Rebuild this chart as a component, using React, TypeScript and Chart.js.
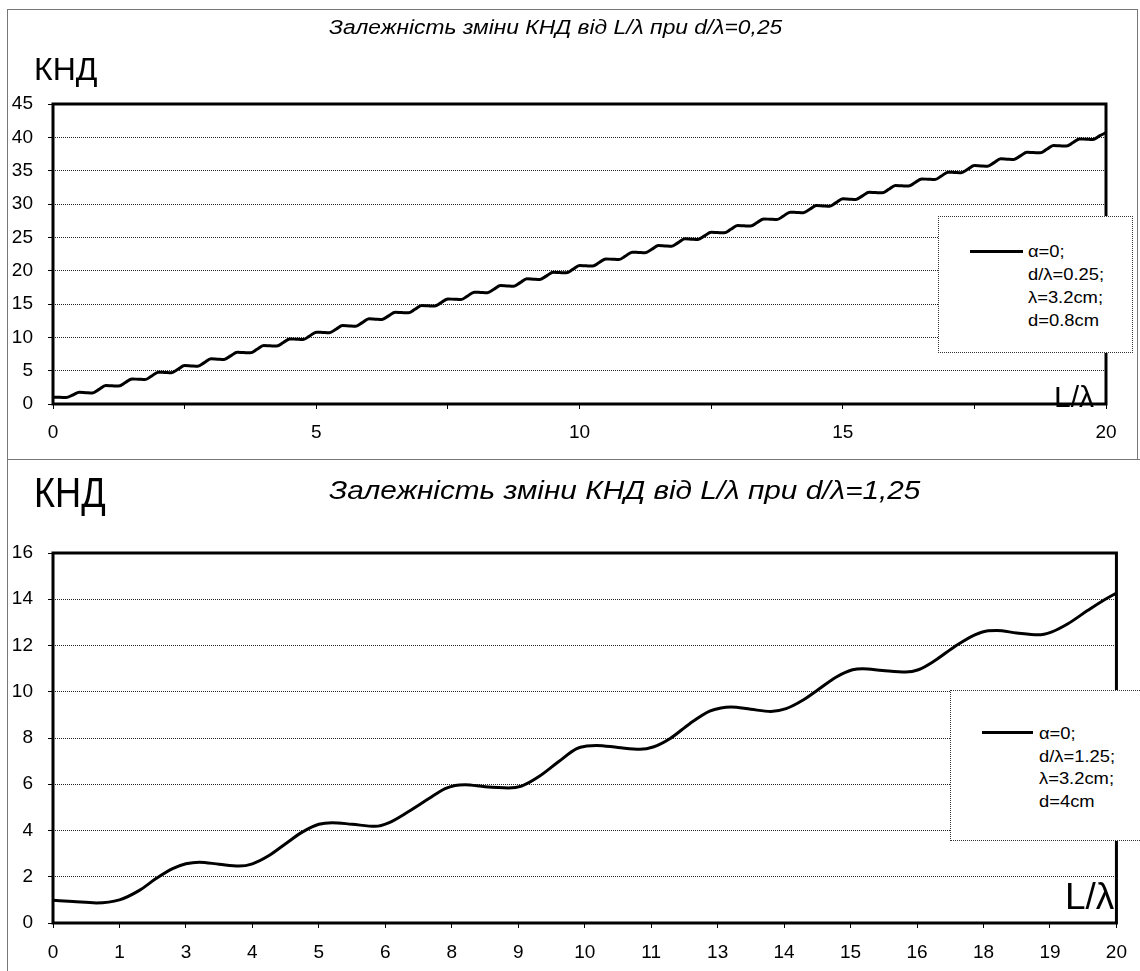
import React, { useEffect, useRef } from "react";
import { Chart, registerables } from "chart.js";

Chart.register(...registerables);

const FONT = '"Liberation Sans", Arial, Helvetica, sans-serif';

// ---------- Top chart (d/λ = 0,25) ----------
const topTitle = "Залежність зміни КНД від L/λ при d/λ=0,25";
const topLegend = ["α=0;", "d/λ=0.25;", "λ=3.2cm;", "d=0.8cm"];
const topYTicks = [0, 5, 10, 15, 20, 25, 30, 35, 40, 45];
const topXLabelEvery = 5;

const topL = [
  0, 0.125, 0.25, 0.375, 0.5, 0.625, 0.75, 0.875,
  1, 1.125, 1.25, 1.375, 1.5, 1.625, 1.75, 1.875,
  2, 2.125, 2.25, 2.375, 2.5, 2.625, 2.75, 2.875,
  3, 3.125, 3.25, 3.375, 3.5, 3.625, 3.75, 3.875,
  4, 4.125, 4.25, 4.375, 4.5, 4.625, 4.75, 4.875,
  5, 5.125, 5.25, 5.375, 5.5, 5.625, 5.75, 5.875,
  6, 6.125, 6.25, 6.375, 6.5, 6.625, 6.75, 6.875,
  7, 7.125, 7.25, 7.375, 7.5, 7.625, 7.75, 7.875,
  8, 8.125, 8.25, 8.375, 8.5, 8.625, 8.75, 8.875,
  9, 9.125, 9.25, 9.375, 9.5, 9.625, 9.75, 9.875,
  10, 10.125, 10.25, 10.375, 10.5, 10.625, 10.75, 10.875,
  11, 11.125, 11.25, 11.375, 11.5, 11.625, 11.75, 11.875,
  12, 12.125, 12.25, 12.375, 12.5, 12.625, 12.75, 12.875,
  13, 13.125, 13.25, 13.375, 13.5, 13.625, 13.75, 13.875,
  14, 14.125, 14.25, 14.375, 14.5, 14.625, 14.75, 14.875,
  15, 15.125, 15.25, 15.375, 15.5, 15.625, 15.75, 15.875,
  16, 16.125, 16.25, 16.375, 16.5, 16.625, 16.75, 16.875,
  17, 17.125, 17.25, 17.375, 17.5, 17.625, 17.75, 17.875,
  18, 18.125, 18.25, 18.375, 18.5, 18.625, 18.75, 18.875,
  19, 19.125, 19.25, 19.375, 19.5, 19.625, 19.75, 19.875,
  20,
];

const topKND = [
  1.0, 1.0, 0.98, 1.35, 1.75, 1.7, 1.66, 2.2,
  2.78, 2.73, 2.69, 3.22, 3.76, 3.71, 3.67, 4.21,
  4.78, 4.73, 4.69, 5.22, 5.76, 5.71, 5.67, 6.21,
  6.78, 6.73, 6.69, 7.22, 7.76, 7.71, 7.67, 8.21,
  8.78, 8.73, 8.69, 9.22, 9.76, 9.71, 9.67, 10.21,
  10.78, 10.73, 10.69, 11.22, 11.76, 11.71, 11.67, 12.21,
  12.78, 12.73, 12.69, 13.22, 13.76, 13.71, 13.67, 14.21,
  14.78, 14.73, 14.69, 15.22, 15.76, 15.71, 15.67, 16.21,
  16.78, 16.73, 16.69, 17.22, 17.76, 17.71, 17.67, 18.21,
  18.78, 18.73, 18.69, 19.22, 19.76, 19.71, 19.67, 20.21,
  20.78, 20.73, 20.69, 21.22, 21.76, 21.71, 21.67, 22.21,
  22.78, 22.73, 22.69, 23.22, 23.76, 23.71, 23.67, 24.21,
  24.78, 24.73, 24.69, 25.22, 25.76, 25.71, 25.67, 26.21,
  26.78, 26.73, 26.69, 27.22, 27.76, 27.71, 27.67, 28.21,
  28.78, 28.73, 28.69, 29.22, 29.76, 29.71, 29.67, 30.21,
  30.78, 30.73, 30.69, 31.22, 31.76, 31.71, 31.67, 32.21,
  32.78, 32.73, 32.69, 33.22, 33.76, 33.71, 33.67, 34.21,
  34.78, 34.73, 34.69, 35.22, 35.76, 35.71, 35.67, 36.21,
  36.78, 36.73, 36.69, 37.22, 37.76, 37.71, 37.67, 38.21,
  38.78, 38.73, 38.69, 39.22, 39.76, 39.71, 39.67, 40.21,
  40.7,
];

// ---------- Bottom chart (d/λ = 1,25) ----------
const botTitle = "Залежність зміни КНД від L/λ при d/λ=1,25";
const botLegend = ["α=0;", "d/λ=1.25;", "λ=3.2cm;", "d=4cm"];
const botXLabels = ["0", "1", "3", "4", "5", "6", "8", "9", "10", "11", "13", "14", "15", "16", "18", "19", "20"];
const botYTicks = [0, 2, 4, 6, 8, 10, 12, 14, 16];

// position along the category axis (index of the label) and value
const botPos = [
  0, 0.3, 0.65, 1.0, 1.3, 1.55, 1.8, 2.0, 2.2, 2.5, 2.8, 3.0, 3.25, 3.5, 3.75,
  4.0, 4.2, 4.5, 4.85, 5.05, 5.35, 5.65, 5.9, 6.05, 6.2, 6.5, 6.85, 7.05, 7.3,
  7.6, 7.88, 8.03, 8.18, 8.5, 8.83, 9.03, 9.28, 9.58, 9.88, 10.05, 10.2, 10.5,
  10.8, 11.03, 11.28, 11.53, 11.78, 12.03, 12.18, 12.48, 12.83, 13.02, 13.27,
  13.57, 13.87, 14.07, 14.2, 14.5, 14.82, 15.02, 15.27, 15.57, 15.82, 16.0,
];
const botKND = [
  0.98, 0.93, 0.87, 1.0, 1.41, 1.92, 2.35, 2.56, 2.63, 2.54, 2.46, 2.56, 2.92, 3.43, 3.93,
  4.27, 4.34, 4.27, 4.18, 4.33, 4.82, 5.37, 5.81, 5.95, 5.98, 5.89, 5.84, 5.92, 6.31,
  6.96, 7.54, 7.65, 7.68, 7.59, 7.51, 7.61, 7.97, 8.62, 9.16, 9.3, 9.34, 9.24,
  9.15, 9.27, 9.63, 10.13, 10.63, 10.95, 11.0, 10.92, 10.85, 10.95, 11.35,
  11.96, 12.46, 12.64, 12.65, 12.54, 12.46, 12.58, 12.94, 13.52, 13.98, 14.27,
];

const framePlugin = {
  id: "plotFrame",
  beforeDatasetsDraw(chart: any) {
    const { ctx, chartArea } = chart;
    const { left, top, right, bottom } = chartArea;
    ctx.save();
    ctx.strokeStyle = "#000";
    ctx.lineWidth = 3;
    ctx.strokeRect(left, top, right - left, bottom - top);
    ctx.restore();
  },
};

function makeChart(
  canvas: HTMLCanvasElement,
  xs: number[],
  ys: number[],
  opts: {
    pad: { left: number; top: number; right: number; bottom: number };
    xMax: number;
    xStep: number;
    xCallback: (v: number) => string;
    yTicks: number[];
    xHeight: number;
    yWidth: number;
    xPad: number;
    yPad: number;
  }
) {
  return new Chart(canvas, {
    type: "line",
    data: {
      datasets: [
        {
          data: xs.map((x, i) => ({ x, y: ys[i] })),
          borderColor: "#000",
          borderWidth: 3,
          pointRadius: 0,
          fill: false,
          cubicInterpolationMode: "monotone",
        },
      ],
    },
    options: {
      animation: false,
      responsive: false,
      maintainAspectRatio: false,
      devicePixelRatio: 1,
      layout: { padding: opts.pad },
      plugins: {
        legend: { display: false },
        tooltip: { enabled: false },
        title: { display: false },
      },
      scales: {
        x: {
          type: "linear",
          min: 0,
          max: opts.xMax,
          ticks: {
            stepSize: opts.xStep,
            autoSkip: false,
            maxRotation: 0,
            color: "#000",
            padding: opts.xPad,
            font: { family: FONT, size: 19 },
            callback: (v: any) => opts.xCallback(Number(v)),
          },
          grid: { drawOnChartArea: false, drawTicks: true, tickLength: 5, color: "#000", lineWidth: 1 },
          border: { display: false },
          afterFit: (s: any) => {
            s.height = opts.xHeight;
          },
        },
        y: {
          type: "linear",
          min: opts.yTicks[0],
          max: opts.yTicks[opts.yTicks.length - 1],
          afterBuildTicks: (s: any) => {
            s.ticks = opts.yTicks.map((v) => ({ value: v }));
          },
          ticks: {
            color: "#000",
            padding: opts.yPad,
            font: { family: FONT, size: 19 },
            callback: (v: any) => String(v),
          },
          grid: { color: "#222", lineWidth: 1, tickLength: 5, tickColor: "#000" },
          border: { display: false, dash: [1, 1] },
          afterFit: (s: any) => {
            s.width = opts.yWidth;
          },
        },
      },
    },
    plugins: [framePlugin],
  } as any);
}

const abs = (o: React.CSSProperties): React.CSSProperties => ({ position: "absolute", margin: 0, whiteSpace: "nowrap", ...o });

export default function App() {
  const topRef = useRef<HTMLCanvasElement>(null);
  const botRef = useRef<HTMLCanvasElement>(null);

  useEffect(() => {
    const c1 = makeChart(topRef.current!, topL, topKND, {
      pad: { left: 0, top: 104, right: 34, bottom: 0 },
      xMax: 20,
      xStep: 2.5,
      xCallback: (v) => (Math.abs(v % topXLabelEvery) < 1e-9 ? String(v) : ""),
      yTicks: topYTicks,
      xHeight: 55,
      yWidth: 53,
      xPad: 12,
      yPad: 15,
    });
    const c2 = makeChart(botRef.current!, botPos, botKND, {
      pad: { left: 0, top: 94, right: 18, bottom: 0 },
      xMax: 16,
      xStep: 1,
      xCallback: (v) => botXLabels[Math.round(v)] ?? "",
      yTicks: botYTicks,
      xHeight: 48,
      yWidth: 53,
      xPad: 13,
      yPad: 15,
    });
    return () => {
      c1.destroy();
      c2.destroy();
    };
  }, []);

  const legendBox = (left: number, top: number, width: number, height: number) =>
    abs({ left, top, width, height, border: "1px dotted #333", background: "#fff", boxSizing: "border-box" });

  return (
    <div style={abs({ left: 0, top: 0, width: 1140, height: 971, overflow: "hidden", background: "#fff", fontFamily: FONT, color: "#000" })}>
      {/* outer frames */}
      <div style={abs({ left: 7, top: 9, width: 1131, height: 451, border: "1px solid #777", boxSizing: "border-box" })} />
      <div style={abs({ left: 7, top: 459, width: 1200, height: 600, border: "1px solid #777", boxSizing: "border-box" })} />

      {/* top chart */}
      <canvas ref={topRef} width={1140} height={459} style={abs({ left: 0, top: 0, width: 1140, height: 459 })} />
      <div style={abs({ left: 329, top: 17, fontSize: 20, fontStyle: "italic", lineHeight: 1, transform: "scaleX(1.14)", transformOrigin: "0 0" })}>{topTitle}</div>
      <div style={abs({ left: 34, top: 53, fontSize: 32, lineHeight: 1 })}>КНД</div>
      <div style={abs({ left: 1054, top: 382, fontSize: 30, lineHeight: 1 })}>L/λ</div>
      <div style={legendBox(938, 216, 195, 137)} />
      <div style={abs({ left: 970, top: 250, width: 53, height: 3, background: "#000" })} />
      <div style={abs({ left: 1028, top: 240, fontSize: 17, lineHeight: "23px", transform: "scaleX(1.08)", transformOrigin: "0 0" })}>
        {topLegend.map((t) => (
          <div key={t}>{t}</div>
        ))}
      </div>

      {/* bottom chart */}
      <canvas ref={botRef} width={1140} height={512} style={abs({ left: 0, top: 459, width: 1140, height: 512 })} />
      <div style={abs({ left: 34, top: 472, fontSize: 42, lineHeight: 1, transform: "scaleX(0.86)", transformOrigin: "0 0" })}>КНД</div>
      <div style={abs({ left: 329, top: 478, fontSize: 25, fontStyle: "italic", lineHeight: 1, transform: "scaleX(1.19)", transformOrigin: "0 0" })}>{botTitle}</div>
      <div style={abs({ left: 1065, top: 878, fontSize: 37, lineHeight: 1 })}>L/λ</div>
      <div style={legendBox(950, 690, 250, 151)} />
      <div style={abs({ left: 982, top: 731, width: 51, height: 3, background: "#000" })} />
      <div style={abs({ left: 1039, top: 723, fontSize: 17, lineHeight: "22.5px", transform: "scaleX(1.08)", transformOrigin: "0 0" })}>
        {botLegend.map((t) => (
          <div key={t}>{t}</div>
        ))}
      </div>
    </div>
  );
}
